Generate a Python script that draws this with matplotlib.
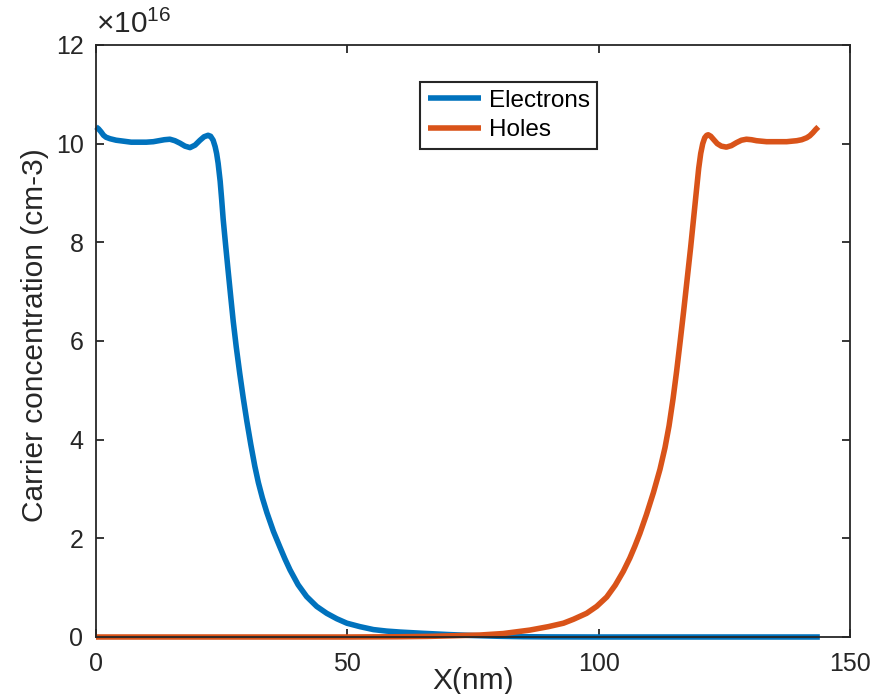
import numpy as np
import matplotlib
matplotlib.use("Agg")
import matplotlib.pyplot as plt

plt.rcParams['font.family'] = ['Liberation Sans', 'DejaVu Sans']
plt.rcParams['mathtext.fontset'] = 'custom'
plt.rcParams['mathtext.rm'] = 'Liberation Sans'

# Electron concentration (units of 1e16 cm-3) vs X (nm)
x_electrons = [0, 0.5, 1, 1.5, 2, 2.8, 4, 5.5, 7, 8.5, 10, 11.4, 12.5, 13.6, 14.7,
               15.7, 16.7, 17.7, 18.7, 19.7, 20.7, 21.5, 22.3, 22.8, 23.3, 23.7,
               24.0, 24.3, 24.7, 25.0, 25.3, 25.8, 26.3, 26.8, 27.3, 27.9, 28.6,
               29.3, 30.0, 30.8, 31.6, 32.3, 33.1, 34.0, 35.3, 36.6, 37.6, 38.6,
               40.2, 41.9, 43.9, 45.9, 47.9, 49.9, 52.5, 55.2, 57.8, 60.5, 65,
               70, 75, 80, 85, 90, 100, 120, 144]
n_electrons = [10.34, 10.3, 10.24, 10.17, 10.13, 10.1, 10.07, 10.05, 10.03, 10.03,
               10.03, 10.04, 10.06, 10.08, 10.09, 10.06, 10.01, 9.95, 9.92, 9.97,
               10.07, 10.14, 10.17, 10.15, 10.07, 9.94, 9.8, 9.6, 9.24, 8.87,
               8.47, 7.93, 7.41, 6.9, 6.40, 5.88, 5.34, 4.84, 4.38, 3.90, 3.46,
               3.13, 2.82, 2.52, 2.14, 1.82, 1.58, 1.36, 1.06, 0.82, 0.62, 0.48,
               0.37, 0.28, 0.21, 0.15, 0.12, 0.10, 0.075, 0.05, 0.03, 0.015,
               0.006, 0.002, 0, 0, 0]

# Hole concentration (units of 1e16 cm-3) vs X (nm)
x_holes = [0, 30, 50, 60, 66, 71, 76.4, 81, 86.3, 90, 93, 95, 97.6, 99.6, 101.6,
           103.3, 104.9, 106.2, 107.2, 108.2, 109.5, 110.9, 112.2, 113.2, 114.0,
           114.8, 115.5, 116.2, 116.9, 117.6, 118.3, 118.9, 119.5, 119.9, 120.3,
           120.7, 121.1, 121.5, 121.8, 122.3, 122.9, 123.6, 124.4, 125.4, 126.4,
           127.4, 128.4, 129.4, 130.4, 131.4, 133.4, 135.4, 137.4, 139.4, 140.4,
           141.4, 142.0, 142.6, 143.2, 143.7]
p_holes = [0, 0, 0, 0.005, 0.012, 0.025, 0.04, 0.07, 0.14, 0.21, 0.28, 0.36, 0.48,
           0.62, 0.81, 1.05, 1.33, 1.6, 1.84, 2.1, 2.48, 2.93, 3.4, 3.84, 4.28,
           4.83, 5.38, 5.98, 6.6, 7.25, 7.9, 8.5, 9.1, 9.5, 9.8, 10.0, 10.12,
           10.17, 10.18, 10.15, 10.08, 10.0, 9.95, 9.93, 9.96, 10.02, 10.07,
           10.09, 10.08, 10.06, 10.04, 10.04, 10.04, 10.06, 10.08, 10.12, 10.16,
           10.22, 10.29, 10.34]

blue = '#0072BD'
orange = '#D95319'
dark = '#262626'

fig = plt.figure(figsize=(8.9, 6.94), dpi=100)
ax = fig.add_axes([96/890, 57/694, 754/890, 592/694])

ax.plot(x_electrons, n_electrons, color=blue, lw=4, label='Electrons',
        solid_capstyle='butt', solid_joinstyle='round', clip_on=False)
ax.plot(x_holes, p_holes, color=orange, lw=4, label='Holes',
        solid_capstyle='butt', solid_joinstyle='round', clip_on=False)

ax.set_xlim(0, 150)
ax.set_ylim(0, 12)
ax.set_xticks([0, 50, 100, 150])
ax.set_yticks([0, 2, 4, 6, 8, 10, 12])

for s in ax.spines.values():
    s.set_linewidth(1.3)
    s.set_color(dark)
ax.tick_params(direction='in', length=6, width=1.3, color=dark,
               labelsize=18, labelcolor=dark, top=True, right=True)
ax.tick_params(axis='x', pad=11)
ax.tick_params(axis='y', pad=9)

ax.set_xlabel('X(nm)', fontsize=21.5, color=dark)
ax.xaxis.set_label_coords(0.5, -0.05)
ax.set_ylabel('Carrier concentration (cm-3)', fontsize=21.5, color=dark)
ax.yaxis.set_label_coords(-0.062, 0.51)

ax.text(0.0, 1.01, r'$\times10^{16}$', transform=ax.transAxes,
        fontsize=21.5, color=dark, ha='left', va='bottom')

leg = ax.legend(loc='upper left', bbox_to_anchor=(420/890, 1 - 82/694),
                bbox_transform=fig.transFigure, borderaxespad=0,
                fontsize=17.5, frameon=True, fancybox=False, framealpha=1,
                edgecolor=dark, handlelength=2.2, handletextpad=0.3,
                labelspacing=0.3, borderpad=0.32)
leg.get_frame().set_linewidth(1.5)
for line in leg.get_lines():
    line.set_linewidth(4)

fig.savefig('out.png', dpi=100)
